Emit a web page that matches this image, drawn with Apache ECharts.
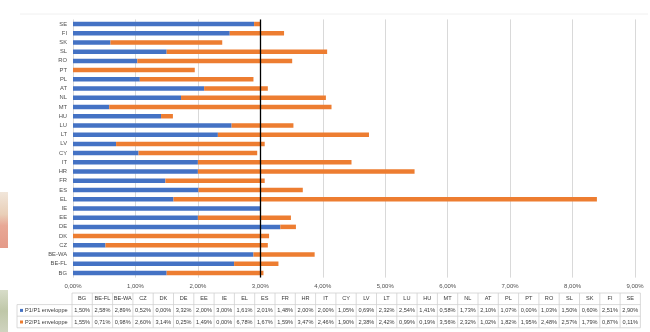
<!DOCTYPE html>
<html>
<head>
<meta charset="utf-8">
<script src="https://cdn.jsdelivr.net/npm/echarts@6/dist/echarts.min.js"></script>
<style>
  html, body { margin: 0; padding: 0; background: #fff; }
  #chart { width: 650px; height: 332px; }
</style>
</head>
<body>
<div id="chart"></div>
<script>
// Member states, bottom to top on the bar axis (left to right in the table)
const categories = ['BG','BE-FL','BE-WA','CZ','DK','DE','EE','IE','EL','ES','FR','HR','IT','CY','LV','LT','LU','HU','MT','NL','AT','PL','PT','RO','SL','SK','FI','SE'];
// Share of envelope, in percent
const p1Values = [1.50,2.58,2.89,0.52,0.00,3.32,2.00,3.00,1.61,2.01,1.48,2.00,2.00,1.05,0.69,2.32,2.54,1.41,0.58,1.73,2.10,1.07,0.00,1.03,1.50,0.60,2.51,2.90];
const p2Values = [1.55,0.71,0.98,2.60,3.14,0.25,1.49,0.00,6.78,1.67,1.59,3.47,2.46,1.90,2.38,2.42,0.99,0.19,3.56,2.32,1.02,1.82,1.95,2.48,2.57,1.79,0.87,0.11];
const seriesNames = ['P1/P1 enveloppe', 'P2/P1 enveloppe'];
const xTicks = [0,1,2,3,4,5,6,7,8,9];
const thresholdValue = 3;

const blue = '#4472C4';
const orange = '#ED7D31';
const fontFamily = '"Liberation Sans", Arial, sans-serif';
const fmt = v => v.toFixed(2).replace('.', ',') + '%';

const chart = echarts.init(document.getElementById('chart'), null, { renderer: 'canvas' });

// Data table under the plot
const tableLeft = 17, legendColW = 55, colW = 20.3;
const rowTop = 293, rowH = 11.6;
const tableRight = tableLeft + legendColW + categories.length * colW;
const lineStyle = { stroke: '#d0d0d0', lineWidth: 0.8 };
const textBase = { fontSize: 5.6, fill: '#3a3a3a', fontFamily };
const g = [];
const firstCol = tableLeft + legendColW;
// horizontal rules
g.push({ type: 'line', shape: { x1: firstCol, y1: rowTop, x2: tableRight, y2: rowTop }, style: lineStyle, silent: true });
[1, 2, 3].forEach(r => {
  g.push({ type: 'line', shape: { x1: tableLeft, y1: rowTop + r * rowH, x2: tableRight, y2: rowTop + r * rowH }, style: lineStyle, silent: true });
});
// vertical rules
g.push({ type: 'line', shape: { x1: tableLeft, y1: rowTop + rowH, x2: tableLeft, y2: rowTop + 3 * rowH }, style: lineStyle, silent: true });
for (let i = 0; i <= categories.length; i++) {
  const x = firstCol + i * colW;
  g.push({ type: 'line', shape: { x1: x, y1: rowTop, x2: x, y2: rowTop + 3 * rowH }, style: lineStyle, silent: true });
}
// header and value cells
const rows = [p1Values, p2Values];
categories.forEach((c, i) => {
  const cx = firstCol + (i + 0.5) * colW;
  g.push({ type: 'text', x: cx, y: rowTop + rowH / 2, style: Object.assign({ text: c, align: 'center', verticalAlign: 'middle' }, textBase), silent: true });
  rows.forEach((vals, r) => {
    g.push({ type: 'text', x: cx, y: rowTop + (r + 1.5) * rowH, style: Object.assign({ text: fmt(vals[i]), align: 'center', verticalAlign: 'middle' }, textBase), silent: true });
  });
});
// legend keys in the first column
[blue, orange].forEach((col, r) => {
  const cy = rowTop + (r + 1.5) * rowH;
  g.push({ type: 'rect', shape: { x: tableLeft + 3, y: cy - 1.5, width: 3, height: 3 }, style: { fill: col }, silent: true });
  g.push({ type: 'text', x: tableLeft + 8, y: cy, style: Object.assign({ text: seriesNames[r], align: 'left', verticalAlign: 'middle' }, textBase), silent: true });
});
// faint frame line above the plot
g.push({ type: 'line', shape: { x1: 20, y1: 14, x2: 648, y2: 14 }, style: { stroke: '#f0f0f0', lineWidth: 1 }, silent: true });
// slivers of a neighbouring photo along the left edge
g.push({
  type: 'rect', shape: { x: 0, y: 192, width: 8, height: 56 }, silent: true,
  style: { fill: new echarts.graphic.LinearGradient(0, 0, 0, 1, [
    { offset: 0, color: '#f1e6da' }, { offset: 0.4, color: '#e9cfb8' }, { offset: 0.6, color: '#e8a896' }, { offset: 1, color: '#e49a88' }
  ]) }
});
g.push({
  type: 'rect', shape: { x: 0, y: 290, width: 8, height: 42 }, silent: true,
  style: { fill: new echarts.graphic.LinearGradient(0, 0, 0, 1, [
    { offset: 0, color: '#d7dcc8' }, { offset: 0.5, color: '#bfc7a8' }, { offset: 1, color: '#cfd3bf' }
  ]) }
});

chart.setOption({
  animation: false,
  backgroundColor: '#ffffff',
  grid: { left: 73, right: 15, top: 19.4, bottom: 54.4, containLabel: false },
  xAxis: {
    type: 'value',
    min: xTicks[0],
    max: xTicks[xTicks.length - 1],
    interval: 1,
    axisLine: { show: false },
    axisTick: { show: false },
    splitLine: { show: true, lineStyle: { color: '#d9d9d9', width: 1 } },
    axisLabel: { formatter: v => fmt(v), fontSize: 6, color: '#505050', margin: 6, fontFamily }
  },
  yAxis: {
    type: 'category',
    data: categories,
    axisLine: { show: false },
    axisTick: { show: false },
    axisLabel: { fontSize: 5.8, color: '#505050', margin: 6, interval: 0, fontFamily }
  },
  series: [
    {
      name: seriesNames[0], type: 'bar', stack: 'env', data: p1Values,
      barWidth: 4.5, itemStyle: { color: blue },
      markLine: {
        silent: true, symbol: 'none', label: { show: false },
        lineStyle: { color: '#000000', width: 1.3, type: 'solid' },
        data: [{ xAxis: thresholdValue }]
      }
    },
    {
      name: seriesNames[1], type: 'bar', stack: 'env', data: p2Values,
      barWidth: 4.5, itemStyle: { color: orange }
    }
  ],
  graphic: g
});
</script>
</body>
</html>
